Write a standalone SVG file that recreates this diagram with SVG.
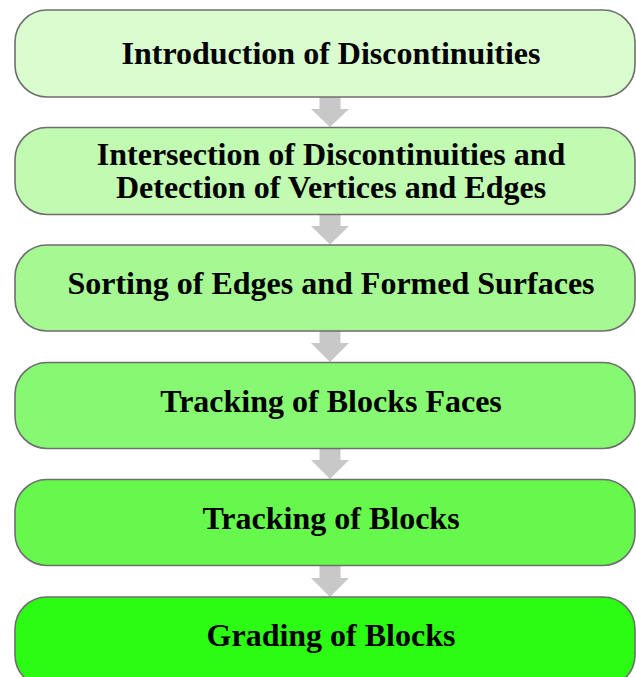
<svg xmlns="http://www.w3.org/2000/svg" width="636" height="677" viewBox="0 0 636 677">
<defs>
<style>
.box{stroke:#6e6e6e;stroke-width:1.6}
.t{font-family:"Liberation Serif","Times New Roman",serif;font-weight:bold;font-size:32px;fill:#000;text-anchor:middle}
.arr{fill:#c8c8c8}
</style>
</defs>
<rect x="0" y="0" width="636" height="677" fill="#ffffff"/>
<g id="connectors">
<path class="arr" d="M319.5 97 H340.5 V109 H349 L330 127 L311 109 H319.5 Z"/>
<path class="arr" d="M319.5 214 H340.5 V226 H349 L330 244.5 L311 226 H319.5 Z"/>
<path class="arr" d="M319.5 331 H340.5 V343 H349 L330 362 L311 343 H319.5 Z"/>
<path class="arr" d="M319.5 448 H340.5 V460 H349 L330 479 L311 460 H319.5 Z"/>
<path class="arr" d="M319.5 565 H340.5 V578 H349 L330 597 L311 578 H319.5 Z"/>
</g>
<g id="n1"><rect class="box" x="15" y="10" width="620" height="87" rx="32" fill="#d9fdcf"/><text class="t" x="331" y="64">Introduction of Discontinuities</text></g>
<g id="n2"><rect class="box" x="15" y="127.5" width="620" height="87" rx="32" fill="#c1fab1"/><text class="t" x="331" y="165">Intersection of Discontinuities and</text><text class="t" x="331" y="198">Detection of Vertices and Edges</text></g>
<g id="n3"><rect class="box" x="15" y="245" width="620" height="86" rx="32" fill="#a5f892"/><text class="t" x="331" y="294">Sorting of Edges and Formed Surfaces</text></g>
<g id="n4"><rect class="box" x="15" y="362.5" width="620" height="86" rx="32" fill="#86f872"/><text class="t" x="331" y="412">Tracking of Blocks Faces</text></g>
<g id="n5"><rect class="box" x="15" y="479.5" width="620" height="86" rx="32" fill="#66f84d"/><text class="t" x="331" y="529">Tracking of Blocks</text></g>
<g id="n6"><rect class="box" x="15" y="597" width="620" height="90" rx="32" fill="#2cfc14"/><text class="t" x="331" y="646">Grading of Blocks</text></g>
</svg>
